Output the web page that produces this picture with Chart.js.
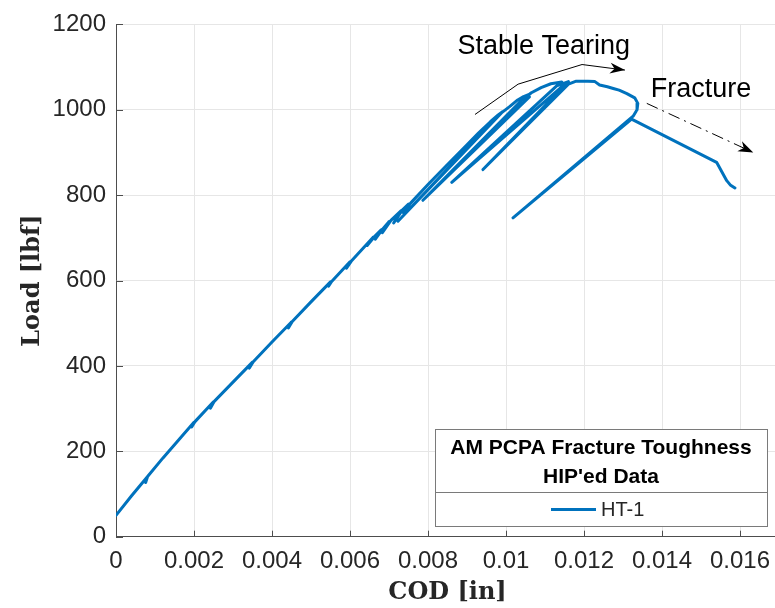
<!DOCTYPE html>
<html>
<head>
<meta charset="utf-8">
<script src="https://cdn.jsdelivr.net/npm/chart.js@4.4.0/dist/chart.umd.min.js"></script>
<style>
  html, body { margin: 0; padding: 0; background: #fff; overflow: hidden; }
  #wrap { position: relative; width: 784px; height: 608px; }
</style>
</head>
<body>
<div id="wrap"><canvas id="myChart"></canvas></div>
<script>
// HT-1 load vs crack opening displacement (unload/reload compliance cycles)
let cod_data = [
  0, 0.0004, 0.0008, 0.00076, 0.00081, 0.0012, 0.0016, 0.002, 0.00194, 0.00202,
  0.0025, 0.00242, 0.00252, 0.003, 0.0035, 0.00342, 0.00352, 0.004, 0.0045, 0.00442,
  0.00452, 0.005, 0.0055, 0.00545, 0.00553, 0.006, 0.00591, 0.00603, 0.0064, 0.0066,
  0.00644, 0.00664, 0.0068, 0.00665, 0.00684, 0.007, 0.00683, 0.00705, 0.0073, 0.00712,
  0.00734, 0.0075, 0.00737, 0.00756, 0.008, 0.0085, 0.009, 0.0093, 0.0096, 0.0098,
  0.00992, 0.00723, 0.0098, 0.0101, 0.0103, 0.01045, 0.01056, 0.0106, 0.00787, 0.0104,
  0.01065, 0.0109, 0.01115, 0.01143, 0.01148, 0.00861, 0.0113, 0.0116, 0.00941, 0.0116,
  0.0118, 0.0121, 0.01228, 0.0124, 0.0126, 0.01275, 0.0129, 0.0131, 0.0133, 0.01338,
  0.01336, 0.01326, 0.01018, 0.01322, 0.0154, 0.01566, 0.01575, 0.01587
];
let load_data = [
  50, 96, 140, 127, 141, 184, 226, 268, 257, 269,
  316, 301, 317, 362, 409, 395, 410, 456, 503, 489,
  504, 550, 597, 587, 598, 644, 629, 645, 682, 702,
  682, 704, 719, 697, 721, 738, 712, 741, 763, 735,
  765, 779, 759, 782, 825, 872, 918, 946, 972, 988,
  996, 739, 987, 1008, 1023, 1031, 1035, 1030, 788, 1022,
  1040, 1052, 1061, 1065, 1058, 830, 1056, 1066, 860, 1060,
  1067, 1067, 1066, 1058, 1054, 1050, 1046, 1038, 1028, 1015,
  1000, 985, 747, 978, 877, 834, 824, 817
];

let x_ticks = [0, 0.002, 0.004, 0.006, 0.008, 0.01, 0.012, 0.014, 0.016];
let x_tick_labels = ['0', '0.002', '0.004', '0.006', '0.008', '0.01', '0.012', '0.014', '0.016'];
let y_ticks = [0, 200, 400, 600, 800, 1000, 1200];
let y_tick_labels = ['0', '200', '400', '600', '800', '1000', '1200'];

let series_label = 'HT-1';
let legend_title = ['AM PCPA Fracture Toughness', "HIP'ed Data"];

let points = [];
for (let i = 0; i < cod_data.length; i++) {
  points.push({ x: cod_data[i], y: load_data[i] });
}

const TEXT = '#262626';
const AXIS = '#4d4d4d';
const BLUE = '#0072BD';
const SANS = '"Liberation Sans", Arial, Helvetica, sans-serif';

// arrows and notes drawn on the axes, given in data units
const notes = {
  stable: { text: 'Stable Tearing', x: 0.01097, y: 1130,
            path: [[0.009205, 989], [0.01031, 1060], [0.01195, 1106], [0.01305, 1093]] },
  fracture: { text: 'Fracture', x: 0.0150, y: 1030,
              path: [[0.01361, 1015], [0.01634, 900]] }
};

function arrow(ctx, pts, dash) {
  ctx.save();
  ctx.strokeStyle = '#000';
  ctx.lineWidth = 1;
  ctx.setLineDash(dash || []);
  ctx.beginPath();
  ctx.moveTo(pts[0][0], pts[0][1]);
  for (let i = 1; i < pts.length; i++) ctx.lineTo(pts[i][0], pts[i][1]);
  ctx.stroke();
  ctx.setLineDash([]);
  // filled head on the last segment
  const [x1, y1] = pts[pts.length - 2];
  const [x2, y2] = pts[pts.length - 1];
  const a = Math.atan2(y2 - y1, x2 - x1);
  const len = 15, half = 5.5;
  ctx.fillStyle = '#000';
  ctx.beginPath();
  ctx.moveTo(x2, y2);
  ctx.lineTo(x2 - len * Math.cos(a) + half * Math.sin(a), y2 - len * Math.sin(a) - half * Math.cos(a));
  ctx.lineTo(x2 - len * 0.7 * Math.cos(a), y2 - len * 0.7 * Math.sin(a));
  ctx.lineTo(x2 - len * Math.cos(a) - half * Math.sin(a), y2 - len * Math.sin(a) + half * Math.cos(a));
  ctx.closePath();
  ctx.fill();
  ctx.restore();
}

const decor = {
  id: 'decor',
  afterDatasetsDraw(chart) {
    const ctx = chart.ctx;
    const xs = chart.scales.x, ys = chart.scales.y;
    const area = chart.chartArea;
    const px = (p) => [xs.getPixelForValue(p[0]), ys.getPixelForValue(p[1])];

    // annotations
    ctx.save();
    ctx.fillStyle = '#000';
    ctx.font = '27px ' + SANS;
    ctx.textAlign = 'center';
    ctx.textBaseline = 'alphabetic';
    for (const key of ['stable', 'fracture']) {
      const n = notes[key];
      ctx.fillText(n.text, xs.getPixelForValue(n.x), ys.getPixelForValue(n.y));
    }
    ctx.restore();
    arrow(ctx, notes.stable.path.map(px));
    arrow(ctx, notes.fracture.path.map(px), [12, 5, 2, 5]);

    // inward tick marks
    ctx.save();
    ctx.strokeStyle = AXIS;
    ctx.lineWidth = 1;
    ctx.beginPath();
    x_ticks.forEach(v => {
      const p = Math.round(xs.getPixelForValue(v)) + 0.5;
      ctx.moveTo(p, area.bottom);
      ctx.lineTo(p, area.bottom - 6);
    });
    y_ticks.forEach(v => {
      const p = Math.round(ys.getPixelForValue(v)) + 0.5;
      ctx.moveTo(area.left, p);
      ctx.lineTo(area.left + 7, p);
    });
    ctx.stroke();
    ctx.restore();

    // legend box with two-line title
    const bx = 435, by = 429, bw = 332, bh = 97, split = 63;
    ctx.save();
    ctx.fillStyle = '#fff';
    ctx.fillRect(bx, by, bw, bh);
    ctx.strokeStyle = '#7a7a7a';
    ctx.lineWidth = 1;
    ctx.strokeRect(bx + 0.5, by + 0.5, bw, bh);
    ctx.beginPath();
    ctx.moveTo(bx, by + split + 0.5);
    ctx.lineTo(bx + bw, by + split + 0.5);
    ctx.stroke();
    ctx.fillStyle = '#000';
    ctx.textAlign = 'center';
    ctx.textBaseline = 'middle';
    ctx.font = 'bold 21px ' + SANS;
    ctx.fillText(legend_title[0], bx + bw / 2, by + 19);
    ctx.fillText(legend_title[1], bx + bw / 2, by + 48);
    ctx.strokeStyle = BLUE;
    ctx.lineWidth = 3;
    ctx.beginPath();
    ctx.moveTo(551, by + 80.5);
    ctx.lineTo(596, by + 80.5);
    ctx.stroke();
    ctx.font = '20px ' + SANS;
    ctx.textAlign = 'left';
    ctx.fillStyle = TEXT;
    ctx.fillText(chart.data.datasets[0].label, 601, by + 81);
    ctx.restore();
  }
};

const ctx = document.getElementById('myChart').getContext('2d');
const myChart = new Chart(ctx, {
  type: 'scatter',
  data: {
    datasets: [{
      label: series_label,
      data: points,
      showLine: true,
      borderColor: BLUE,
      backgroundColor: BLUE,
      borderWidth: 3,
      pointRadius: 0,
      tension: 0,
      borderJoinStyle: 'round',
      borderCapStyle: 'round'
    }]
  },
  options: {
    animation: false,
    responsive: true,
    maintainAspectRatio: false,
    layout: { padding: { top: 16.5, right: 5, left: 0, bottom: 0 } },
    plugins: { legend: { display: false }, tooltip: { enabled: false } },
    scales: {
      x: {
        type: 'linear',
        min: 0,
        max: 0.017,
        afterBuildTicks: s => { s.ticks = x_ticks.map(v => ({ value: v })); },
        afterFit: s => { s.height = 71.3; },
        ticks: {
          callback: (v, i) => x_tick_labels[i],
          font: { family: SANS, size: 24 },
          color: TEXT,
          padding: 10,
          maxRotation: 0,
          autoSkip: false
        },
        grid: { color: '#e6e6e6', drawTicks: false },
        border: { color: AXIS, width: 1 },
        title: {
          display: true,
          text: 'COD [in]',
          font: { family: '"DejaVu Serif", serif', weight: 'bold', size: 24 },
          color: TEXT,
          padding: { top: 0, bottom: 1 }
        }
      },
      y: {
        min: 0,
        max: 1200,
        afterBuildTicks: s => { s.ticks = y_ticks.map(v => ({ value: v })); },
        afterFit: s => { s.width = 116; },
        ticks: {
          callback: (v, i) => y_tick_labels[i],
          font: { family: SANS, size: 24 },
          color: TEXT,
          padding: 10
        },
        grid: { color: '#e6e6e6', drawTicks: false },
        border: { color: AXIS, width: 1 },
        title: {
          display: true,
          text: 'Load [lbf]',
          font: { family: '"DejaVu Serif", serif', weight: 'bold', size: 24 },
          color: TEXT,
          padding: { top: 18, bottom: 0 }
        }
      }
    }
  },
  plugins: [decor]
});
</script>
</body>
</html>
